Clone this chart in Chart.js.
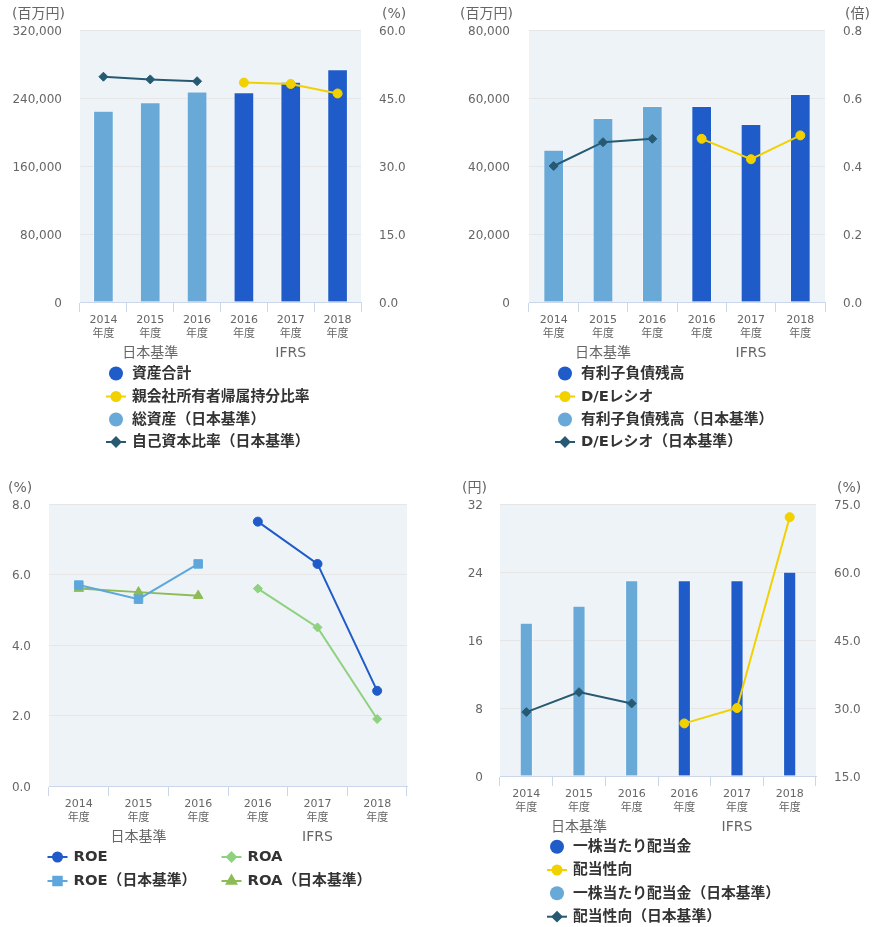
<!DOCTYPE html>
<html><head><meta charset="utf-8">
<script src="https://cdn.jsdelivr.net/npm/chart.js@4.4.1/dist/chart.umd.min.js"></script>
<style>
html,body{margin:0;padding:0;background:#fff;width:877px;height:927px;overflow:hidden;}
canvas{position:absolute;}
</style></head><body>
<canvas id="c1" width="438" height="470" style="left:0;top:0;width:438px;height:470px"></canvas>
<canvas id="c2" width="439" height="470" style="left:438px;top:0;width:439px;height:470px"></canvas>
<canvas id="c3" width="438" height="457" style="left:0;top:470px;width:438px;height:457px"></canvas>
<canvas id="c4" width="439" height="457" style="left:438px;top:470px;width:439px;height:457px"></canvas>
<script>
// ---------- data ----------
const years = ['2014', '2015', '2016', '2016', '2017', '2018'];
const yearSuffix = '年度';
const groupLabels = ['', '日本基準', '', '', 'IFRS', ''];

// chart 1: total assets / equity ratio
const assetsIfrs = [null, null, null, 246300, 258800, 273300];
const equityRatioIfrs = [null, null, null, 48.4, 48.1, 46.0];
const assetsJp = [224700, 234500, 247400, null, null, null];
const equityRatioJp = [49.7, 49.1, 48.7, null, null, null];
const ticksAssets = [0, 80000, 160000, 240000, 320000];
const ticksEquityRatio = [0, 15, 30, 45, 60];

// chart 2: interest-bearing debt / D/E ratio
const debtIfrs = [null, null, null, 57550, 52250, 61080];
const deIfrs = [null, null, null, 0.48, 0.42, 0.49];
const debtJp = [44700, 54000, 57550, null, null, null];
const deJp = [0.40, 0.47, 0.48, null, null, null];
const ticksDebt = [0, 20000, 40000, 60000, 80000];
const ticksDe = [0, 0.2, 0.4, 0.6, 0.8];

// chart 3: ROE / ROA
const roeIfrs = [null, null, null, 7.5, 6.3, 2.7];
const roaIfrs = [null, null, null, 5.6, 4.5, 1.9];
const roeJp = [5.7, 5.3, 6.3, null, null, null];
const roaJp = [5.6, 5.5, 5.4, null, null, null];
const ticksRo = [0, 2, 4, 6, 8];

// chart 4: dividend per share / payout ratio
const dpsIfrs = [null, null, null, 23, 23, 24];
const payoutIfrs = [null, null, null, 26.6, 30.0, 72.1];
const dpsJp = [18, 20, 23, null, null, null];
const payoutJp = [29.1, 33.5, 31.0, null, null, null];
const ticksDps = [0, 8, 16, 24, 32];
const ticksPayout = [15, 30, 45, 60, 75];

// ---------- styles ----------
const FONT = "'DejaVu Sans', 'Noto Sans CJK JP', sans-serif";
const TICK_COLOR = '#666666';
const AXIS_LINE = '#ccd6eb';
const GRID = '#e6e6e6';
const PLOT_BG = '#eef3f8';
const DARK_BLUE = '#1f5bc9';
const LIGHT_BLUE = '#68a9d7';
const YELLOW = '#f2d100';
const DARK_TEAL = '#275a72';
const ROE_JP = '#5ea7dd';
const ROA_IFRS = '#8ed27f';
const ROA_JP = '#8dbb55';
const BAR_EDGE = 'rgba(255,255,255,0.35)';

const bgPlugin = {
  id: 'plotBg',
  beforeDraw(chart, args, opts) {
    const a = chart.chartArea, ctx = chart.ctx;
    ctx.save();
    ctx.fillStyle = opts.color || PLOT_BG;
    ctx.fillRect(a.left, a.top, a.right - a.left, a.bottom - a.top);
    ctx.restore();
  }
};

function drawSymbol(ctx, ds, x, y) {
  if (ds.type === 'bar') {
    ctx.fillStyle = ds.backgroundColor;
    ctx.beginPath(); ctx.arc(x, y, 7, 0, Math.PI * 2); ctx.fill();
    return;
  }
  ctx.strokeStyle = ds.borderColor;
  ctx.lineWidth = 2;
  ctx.beginPath(); ctx.moveTo(x - 10, y); ctx.lineTo(x + 10, y); ctx.stroke();
  ctx.fillStyle = ds.pointBackgroundColor;
  ctx.strokeStyle = ds.pointBorderColor;
  Chart.helpers.drawPoint(ctx, {pointStyle: ds.pointStyle, radius: ds.pointRadius, borderWidth: 1, rotation: 0}, x, y);
}

const decoPlugin = {
  id: 'deco',
  afterDraw(chart, args, o) {
    const ctx = chart.ctx, a = chart.chartArea;
    ctx.save();
    ctx.textBaseline = 'middle';
    ctx.textAlign = 'left';
    ctx.font = '14px ' + FONT;
    ctx.fillStyle = TICK_COLOR;
    (o.units || []).forEach(u => ctx.fillText(u.text, u.x, a.top - 15.5));
    (o.legend || []).forEach(it => {
      const ds = chart.data.datasets[it.ds];
      drawSymbol(ctx, ds, it.x, it.y);
      ctx.font = 'bold 14.8px ' + FONT;
      ctx.fillStyle = '#333333';
      ctx.fillText(ds.label, it.x + 16, it.y + 0.5);
    });
    ctx.restore();
  }
};
Chart.register(bgPlugin, decoPlugin);

function yScale(pos, ticksArr, fmt, width, pad, drawGrid) {
  return {
    type: 'linear', position: pos,
    min: ticksArr[0], max: ticksArr[ticksArr.length - 1],
    afterBuildTicks: s => { s.ticks = ticksArr.map(v => ({value: v})); },
    ticks: {padding: pad, labelOffset: 1.5, color: TICK_COLOR, font: {family: FONT, size: 12}, callback: v => fmt(v)},
    grid: {drawOnChartArea: drawGrid, drawTicks: false,
      color: c => (c.tick && c.tick.value === ticksArr[0]) ? 'rgba(0,0,0,0)' : GRID},
    border: {display: false},
    afterFit: s => { s.width = width; }
  };
}
function xScales() {
  return {
    x: {
      type: 'category', offset: true, position: 'bottom',
      grid: {offset: true, drawOnChartArea: false, drawTicks: true, tickLength: 10, color: AXIS_LINE},
      border: {display: true, color: AXIS_LINE, width: 1},
      ticks: {autoSkip: false, maxRotation: 0, padding: 1, color: TICK_COLOR,
        font: {family: FONT, size: 11, lineHeight: '14px'}},
      afterFit: s => { s.height = 41; }
    },
    x2: {
      type: 'category', labels: groupLabels, offset: true, position: 'bottom', weight: 1,
      grid: {display: false, drawTicks: false}, border: {display: false},
      ticks: {autoSkip: false, maxRotation: 0, padding: 2, color: TICK_COLOR,
        font: {family: FONT, size: 14, lineHeight: '16px'}},
      afterFit: s => { s.height = 22; }
    }
  };
}
const fmtThousands = v => Number(v).toLocaleString('en-US');
const fmt1 = v => Number(v).toFixed(1);
const fmt0 = v => String(v);
const catLabels = years.map(y => [y, yearSuffix]);

function barDs(label, data, color, thickness) {
  return {type: 'bar', label, data, backgroundColor: color, borderColor: BAR_EDGE, borderWidth: 1,
    barThickness: thickness, grouped: false, yAxisID: 'y', order: 2};
}
function lineDs(label, data, color, style, radius, axis) {
  return {type: 'line', label, data, borderColor: color, backgroundColor: color, borderWidth: 2,
    pointStyle: style, pointRadius: radius, pointBackgroundColor: color, pointBorderColor: color,
    pointBorderWidth: 1, tension: 0, yAxisID: axis, order: 1};
}
function baseOptions(padding, deco) {
  return {
    responsive: false, animation: false, devicePixelRatio: 1,
    layout: {padding},
    plugins: {legend: {display: false}, tooltip: {enabled: false}, plotBg: {color: PLOT_BG}, deco}
  };
}

// chart 1
{
  const opts = baseOptions({top: 30, left: 0, right: 0, bottom: 105}, {
    units: [{text: '(百万円)', x: 12}, {text: '(%)', x: 382}],
    legend: [{ds: 0, x: 116, y: 373.5}, {ds: 1, x: 116, y: 396.5}, {ds: 2, x: 116, y: 419.5}, {ds: 3, x: 116, y: 442}]
  });
  opts.scales = Object.assign(xScales(), {
    y: yScale('left', ticksAssets, fmtThousands, 80, 18, true),
    y1: yScale('right', ticksEquityRatio, fmt1, 77, 18, false)
  });
  new Chart(document.getElementById('c1'), {
    type: 'bar',
    data: {labels: catLabels, datasets: [
      barDs('資産合計', assetsIfrs, DARK_BLUE, 20),
      lineDs('親会社所有者帰属持分比率', equityRatioIfrs, YELLOW, 'circle', 4.5, 'y1'),
      barDs('総資産（日本基準）', assetsJp, LIGHT_BLUE, 20),
      lineDs('自己資本比率（日本基準）', equityRatioJp, DARK_TEAL, 'rectRot', 4.5, 'y1')
    ]},
    options: opts
  });
}
// chart 2
{
  const opts = baseOptions({top: 30, left: 0, right: 0, bottom: 105}, {
    units: [{text: '(百万円)', x: 22}, {text: '(倍)', x: 407}],
    legend: [{ds: 0, x: 127, y: 373.5}, {ds: 1, x: 127, y: 396.5}, {ds: 2, x: 127, y: 419.5}, {ds: 3, x: 127, y: 442}]
  });
  opts.scales = Object.assign(xScales(), {
    y: yScale('left', ticksDebt, fmtThousands, 91, 19, true),
    y1: yScale('right', ticksDe, fmt1, 52, 18, false)
  });
  new Chart(document.getElementById('c2'), {
    type: 'bar',
    data: {labels: catLabels, datasets: [
      barDs('有利子負債残高', debtIfrs, DARK_BLUE, 20),
      lineDs('D/Eレシオ', deIfrs, YELLOW, 'circle', 4.5, 'y1'),
      barDs('有利子負債残高（日本基準）', debtJp, LIGHT_BLUE, 20),
      lineDs('D/Eレシオ（日本基準）', deJp, DARK_TEAL, 'rectRot', 4.5, 'y1')
    ]},
    options: opts
  });
}
// chart 3
{
  const opts = baseOptions({top: 34, left: 0, right: 31, bottom: 78}, {
    units: [{text: '(%)', x: 8}],
    legend: [{ds: 0, x: 57.5, y: 387}, {ds: 1, x: 231.5, y: 387}, {ds: 2, x: 57.5, y: 411}, {ds: 3, x: 231.5, y: 411}]
  });
  opts.scales = Object.assign(xScales(), {
    y: yScale('left', ticksRo, fmt1, 49, 18, true)
  });
  new Chart(document.getElementById('c3'), {
    type: 'line',
    data: {labels: catLabels, datasets: [
      lineDs('ROE', roeIfrs, DARK_BLUE, 'circle', 4.5, 'y'),
      lineDs('ROA', roaIfrs, ROA_IFRS, 'rectRot', 4.5, 'y'),
      lineDs('ROE（日本基準）', roeJp, ROE_JP, 'rect', 6, 'y'),
      lineDs('ROA（日本基準）', roaJp, ROA_JP, 'triangle', 5.5, 'y')
    ]},
    options: opts
  });
}
// chart 4
{
  const opts = baseOptions({top: 34, left: 0, right: 0, bottom: 88}, {
    units: [{text: '(円)', x: 24}, {text: '(%)', x: 399}],
    legend: [{ds: 0, x: 119, y: 376.7}, {ds: 1, x: 119, y: 400}, {ds: 2, x: 119, y: 423.3}, {ds: 3, x: 119, y: 446.7}]
  });
  opts.scales = Object.assign(xScales(), {
    y: yScale('left', ticksDps, fmt0, 62, 17, true),
    y1: yScale('right', ticksPayout, fmt1, 61, 18, false)
  });
  new Chart(document.getElementById('c4'), {
    type: 'bar',
    data: {labels: catLabels, datasets: [
      barDs('一株当たり配当金', dpsIfrs, DARK_BLUE, 12.5),
      lineDs('配当性向', payoutIfrs, YELLOW, 'circle', 4.5, 'y1'),
      barDs('一株当たり配当金（日本基準）', dpsJp, LIGHT_BLUE, 12.5),
      lineDs('配当性向（日本基準）', payoutJp, DARK_TEAL, 'rectRot', 4.5, 'y1')
    ]},
    options: opts
  });
}
</script>
</body></html>
